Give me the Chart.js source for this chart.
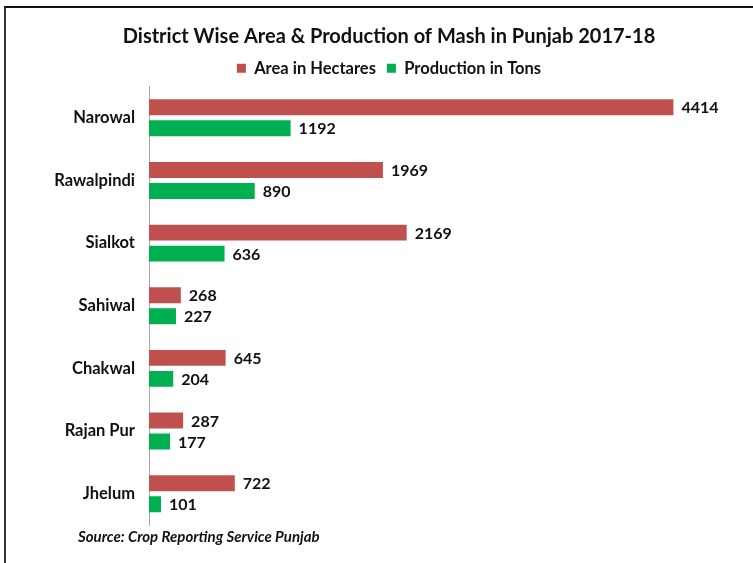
<!DOCTYPE html>
<html>
<head>
<meta charset="utf-8">
<script src="https://cdn.jsdelivr.net/npm/chart.js@4/dist/chart.umd.min.js"></script>
<style>
  html, body { margin: 0; padding: 0; background: #ffffff; }
  #wrap { position: relative; width: 753px; height: 563px; overflow: hidden; }
  #frame { position: absolute; left: 4px; top: 6px; width: 760px; height: 600px;
           border-top: 2px solid #111; border-left: 2px solid #333; box-sizing: border-box; }
  #source { position: absolute; left: 78px; top: 527px; font-family: Lato, sans-serif;
            font-style: italic; font-weight: bold; font-size: 15px; color: #111; }
  canvas { position: absolute; left: 0; top: 0; }
</style>
</head>
<body>
<div id="wrap">
  <canvas id="chart" width="753" height="563"></canvas>
  <div id="frame"></div>
  <div id="source">Source: Crop Reporting Service Punjab</div>
</div>
<script>
// District-wise mash crop, Punjab 2017-18
const districts = ['Narowal', 'Rawalpindi', 'Sialkot', 'Sahiwal', 'Chakwal', 'Rajan Pur', 'Jhelum'];
const areaHectares = [4414, 1969, 2169, 268, 645, 287, 722];
const productionTons = [1192, 890, 636, 227, 204, 177, 101];
const seriesNames = ['Area in Hectares', 'Production in Tons'];

const FONT = 'Lato, "Open Sans", sans-serif';

// Writes each bar's value just past its end
const valueLabels = {
  id: 'valueLabels',
  afterDatasetsDraw(chart) {
    const ctx = chart.ctx;
    ctx.save();
    ctx.font = 'bold 16px ' + FONT;
    ctx.fillStyle = '#111111';
    ctx.textAlign = 'left';
    ctx.textBaseline = 'middle';
    chart.data.datasets.forEach((ds, i) => {
      chart.getDatasetMeta(i).data.forEach((bar, j) => {
        ctx.fillText(String(ds.data[j]), bar.x + 8, bar.y + 1);
      });
    });
    ctx.restore();
  }
};

new Chart(document.getElementById('chart'), {
  type: 'bar',
  data: {
    labels: districts,
    datasets: [
      { label: seriesNames[0], data: areaHectares, backgroundColor: '#C0504D' },
      { label: seriesNames[1], data: productionTons, backgroundColor: '#00B050' }
    ]
  },
  options: {
    indexAxis: 'y',
    responsive: false,
    animation: false,
    events: [],
    categoryPercentage: 0.67,
    barPercentage: 0.76,
    layout: { padding: { top: 25, right: 10, bottom: 38, left: 35 } },
    plugins: {
      title: {
        display: true,
        text: 'District Wise Area & Production of Mash in Punjab 2017-18',
        color: '#111111',
        font: { family: FONT, size: 20, weight: 'bold' },
        padding: { top: 0, bottom: 0 }
      },
      legend: {
        display: true,
        labels: {
          color: '#111111',
          font: { family: FONT, size: 16.5, weight: 'bold' },
          boxWidth: 9,
          boxHeight: 9,
          padding: 11
        }
      },
      tooltip: { enabled: false }
    },
    scales: {
      x: {
        display: false,
        min: 0,
        max: 5000
      },
      y: {
        grid: { display: false },
        border: { color: '#a6a6a6', width: 1 },
        ticks: {
          color: '#111111',
          font: { family: FONT, size: 16.5, weight: 'bold' },
          padding: 6
        },
        afterFit(scale) { scale.width = 114; }
      }
    }
  },
  plugins: [valueLabels]
});
</script>
</body>
</html>
